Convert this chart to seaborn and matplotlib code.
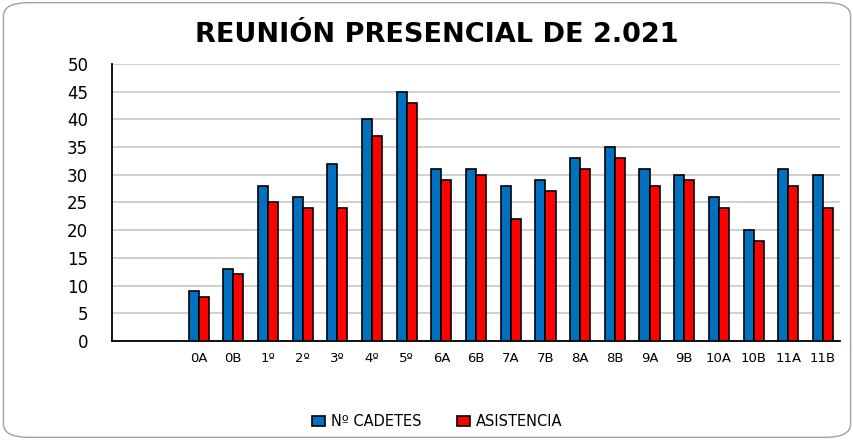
import matplotlib
matplotlib.use("Agg")
import matplotlib.pyplot as plt
import pandas as pd
import seaborn as sns
from matplotlib.patches import FancyBboxPatch

# chart data
grupos = ["", " ", "0A", "0B", "1º", "2º", "3º", "4º", "5º", "6A", "6B", "7A", "7B",
          "8A", "8B", "9A", "9B", "10A", "10B", "11A", "11B"]
cursos = ["0A", "0B", "1º", "2º", "3º", "4º", "5º", "6A", "6B", "7A", "7B",
          "8A", "8B", "9A", "9B", "10A", "10B", "11A", "11B"]
cadetes = [9, 13, 28, 26, 32, 40, 45, 31, 31, 28, 29, 33, 35, 31, 30, 26, 20, 31, 30]
asistencia = [8, 12, 25, 24, 24, 37, 43, 29, 30, 22, 27, 31, 33, 28, 29, 24, 18, 28, 24]
series = ["Nº CADETES", "ASISTENCIA"]
colores = ["#0070C0", "#FF0000"]

df = pd.DataFrame({
    "curso": cursos * 2,
    "valor": cadetes + asistencia,
    "serie": [series[0]] * len(cursos) + [series[1]] * len(cursos),
})

sns.set_style("white")
plt.rcParams["font.family"] = ["DejaVu Sans"]
plt.rcParams["text.color"] = "black"
plt.rcParams["xtick.color"] = "black"
plt.rcParams["ytick.color"] = "black"

fig = plt.figure(figsize=(8.54, 4.4), dpi=100)
ax = fig.add_axes([0.131, 0.225, 0.853, 0.63])

sns.barplot(data=df, x="curso", y="valor", hue="serie", order=grupos,
            hue_order=series, palette=colores, saturation=1, width=0.58,
            edgecolor="black", linewidth=1.2, ax=ax, zorder=3)

ax.set_ylim(0, 50)
ax.set_yticks(range(0, 51, 5))
ax.set_xlim(-0.5, len(grupos) - 0.5)
ax.yaxis.grid(True, color="#c8c8c8", linewidth=1.2, zorder=0)
ax.set_axisbelow(True)
ax.set_xlabel("")
ax.set_ylabel("")
ax.tick_params(axis="y", labelsize=12, length=0, pad=17)
ax.tick_params(axis="x", labelsize=9.5, length=0, pad=8)
for s in ["top", "right"]:
    ax.spines[s].set_visible(False)
ax.spines["left"].set_color("black")
ax.spines["bottom"].set_color("black")
ax.spines["left"].set_linewidth(1.3)
ax.spines["bottom"].set_linewidth(1.3)

fig.suptitle("REUNIÓN PRESENCIAL DE 2.021", x=0.511, y=0.95,
             fontsize=19.5, fontweight="bold", color="black")

leg = ax.legend(loc="center", bbox_to_anchor=(0.512, 0.042),
                bbox_transform=fig.transFigure, ncol=2, frameon=False,
                fontsize=10.5, handlelength=0.9, handleheight=0.7,
                columnspacing=2.4, handletextpad=0.4)

border = FancyBboxPatch((0.004, 0.006), 0.992, 0.988,
                        boxstyle="round,pad=0,rounding_size=0.03",
                        transform=fig.transFigure, facecolor="none",
                        edgecolor="#a0a0a0", linewidth=1.0)
fig.patches.append(border)

fig.savefig("out.png", dpi=100)
